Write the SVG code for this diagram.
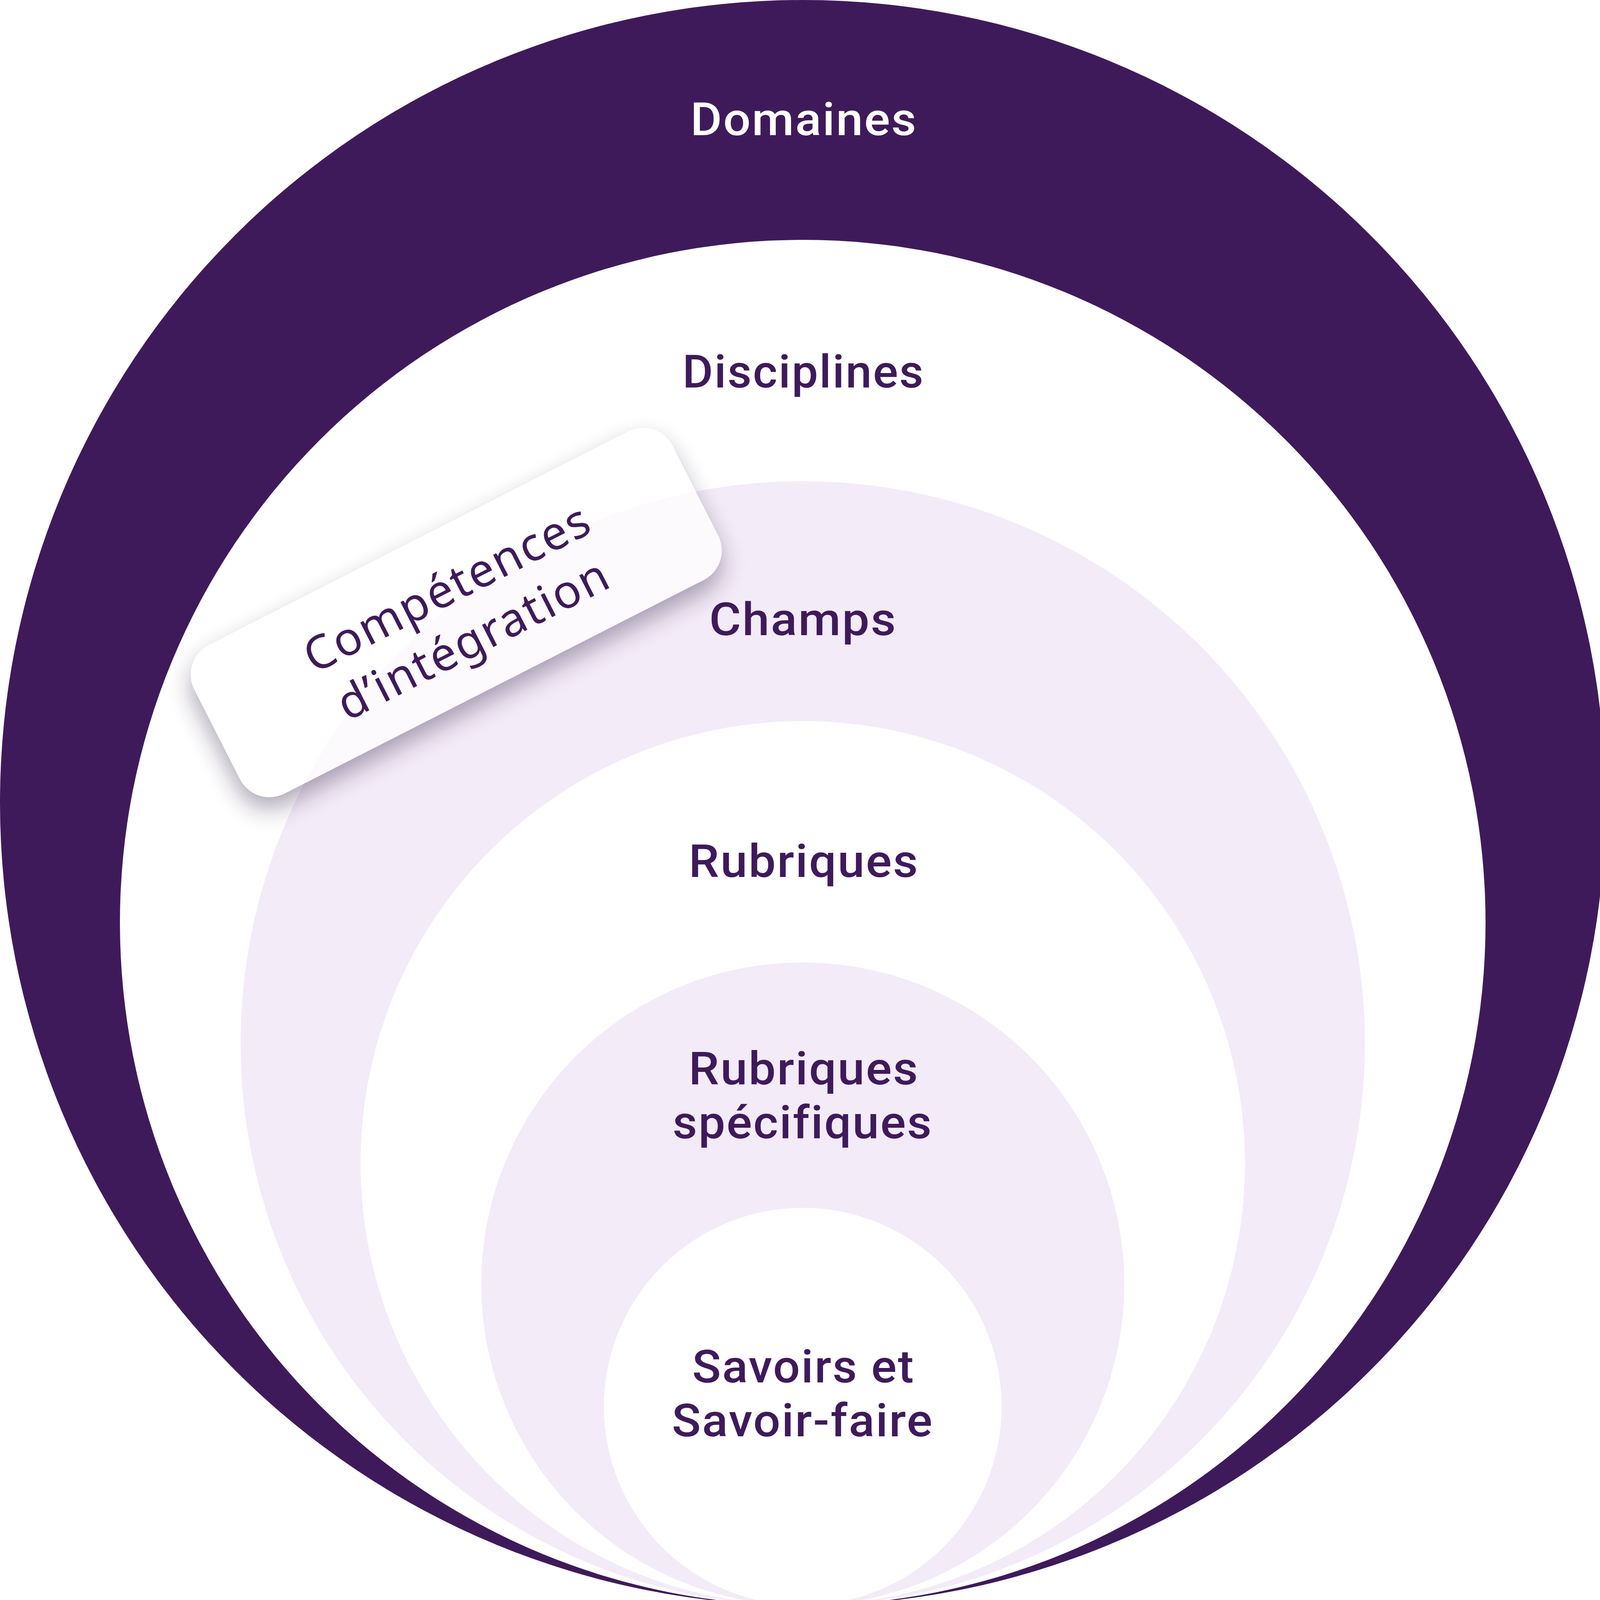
<svg xmlns="http://www.w3.org/2000/svg" width="4110" height="4110" viewBox="0 0 4110 4110">
  <style>
    .dark { fill: #3f1a5b; }
    .lav { fill: #f3ebf8; }
    .white { fill: #ffffff; }
    .lbl { font-family: Roboto, "Noto Sans", "Liberation Sans", sans-serif; font-weight: 500; font-size: 117px; text-anchor: middle; fill: #3f1a5b; letter-spacing: 3px; }
    .lbl-w { fill: #ffffff; }
    .card-txt { font-family: "Noto Sans", "Lato", "Liberation Sans", sans-serif; font-weight: 400; font-size: 119px; text-anchor: middle; fill: #3f1a5b; letter-spacing: 4px; }
  </style>
  <defs>
    <filter id="blur" x="-30%" y="-60%" width="160%" height="220%">
      <feGaussianBlur stdDeviation="30"/>
    </filter>
    <mask id="cardHole" maskUnits="userSpaceOnUse" x="0" y="0" width="4110" height="4110">
      <rect x="0" y="0" width="4110" height="4110" fill="#ffffff"/>
      <rect transform="translate(1168,1568) rotate(-27)" x="-687" y="-213.5" width="1374" height="427" rx="85" fill="#000000"/>
    </mask>
  </defs>

  <g id="domaines">
    <circle class="dark" cx="2055" cy="2055" r="2055"/>
    <text class="lbl lbl-w" x="2058" y="346" textLength="581" lengthAdjust="spacingAndGlyphs">Domaines</text>
  </g>
  <g id="disciplines">
    <circle class="white" cx="2055" cy="2362" r="1748"/>
    <text class="lbl" x="2057" y="992" textLength="620" lengthAdjust="spacingAndGlyphs">Disciplines</text>
  </g>
  <g id="champs">
    <circle class="lav" cx="2055" cy="2671" r="1439"/>
    <text class="lbl" x="2056" y="1626" textLength="481" lengthAdjust="spacingAndGlyphs">Champs</text>
  </g>
  <g id="rubriques">
    <circle class="white" cx="2055" cy="2978" r="1132"/>
    <text class="lbl" x="2058" y="2245" textLength="590" lengthAdjust="spacingAndGlyphs">Rubriques</text>
  </g>
  <g id="rubriques-specifiques">
    <circle class="lav" cx="2055" cy="3287" r="823"/>
    <text class="lbl" x="2058" y="2776"><tspan x="2058" y="2776" textLength="590" lengthAdjust="spacingAndGlyphs">Rubriques</tspan><tspan x="2055" y="2914" textLength="666" lengthAdjust="spacingAndGlyphs">spécifiques</tspan></text>
  </g>
  <g id="savoirs">
    <circle class="white" cx="2055" cy="3601" r="509"/>
    <text class="lbl" x="2057" y="3539"><tspan x="2057" y="3539" textLength="570" lengthAdjust="spacingAndGlyphs">Savoirs et</tspan><tspan x="2055" y="3677" textLength="670" lengthAdjust="spacingAndGlyphs">Savoir-faire</tspan></text>
  </g>

  <g id="competences-integration">
    <g mask="url(#cardHole)">
      <rect transform="translate(1168,1598) rotate(-27)" x="-687" y="-213.5" width="1374" height="427" rx="85" fill="#2e1a40" opacity="0.38" filter="url(#blur)"/>
    </g>
    <g transform="translate(1168,1568) rotate(-27)">
      <rect x="-687" y="-213.5" width="1374" height="427" rx="85" fill="#ffffff" fill-opacity="0.72"/>
      <text class="card-txt" x="8" y="-25"><tspan x="8" y="-25">Compétences</tspan><tspan x="8" y="122">d’intégration</tspan></text>
    </g>
  </g>
</svg>
